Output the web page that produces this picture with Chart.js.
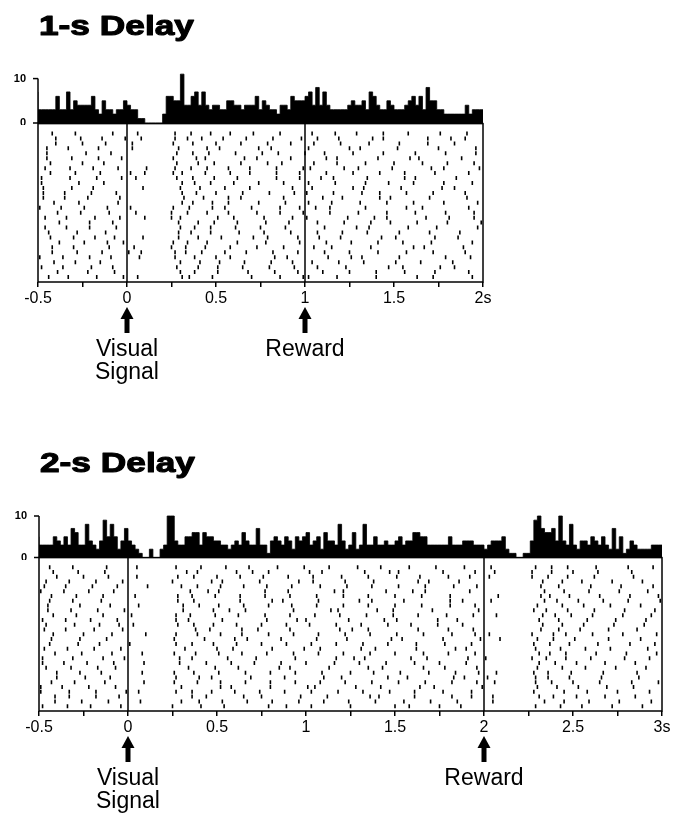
<!DOCTYPE html>
<html>
<head>
<meta charset="utf-8">
<script src="https://cdn.jsdelivr.net/npm/chart.js@4/dist/chart.umd.min.js"></script>
<style>
  body { margin: 0; background: #fff; }
  #wrap { position: relative; width: 678px; height: 818px; overflow: hidden; }
  canvas { position: absolute; left: 0; }
</style>
</head>
<body>
<div id="wrap">
  <canvas id="hist1" width="678" height="125" style="top:0px"></canvas>
  <canvas id="raster1" width="678" height="300" style="top:118px"></canvas>
  <canvas id="hist2" width="678" height="130" style="top:430px"></canvas>
  <canvas id="raster2" width="678" height="266" style="top:552px"></canvas>
</div>
<script>
// ---- data ----
const binWidth = 0.02;
const histTicks = [0, 10];

// 1-s delay
const range1 = [-0.5, 2];
const hist1 = [
  7, 3, 3, 3, 3, 3, 6, 3, 3, 7, 3, 5, 4, 4, 4, 4, 6, 3, 2, 5, 3, 3, 2, 3, 3,
  5, 4, 3, 3, 1, 1, 0, 0, 0, 0, 0, 2, 6, 6, 5, 5, 11, 4, 4, 6, 7, 4, 7, 4, 3,
  4, 4, 3, 3, 5, 5, 4, 4, 3, 4, 4, 4, 6, 3, 5, 4, 3, 3, 2, 4, 4, 3, 6, 5, 5,
  5, 6, 7, 4, 8, 4, 7, 4, 3, 3, 3, 3, 3, 4, 5, 4, 4, 5, 3, 7, 6, 4, 3, 3, 5,
  4, 3, 3, 3, 4, 5, 6, 4, 6, 3, 8, 5, 5, 3, 3, 2, 2, 2, 2, 2, 2, 4, 2, 3, 3
];
const trials1 = [
  [-0.42, -0.29, -0.08, 0.06, 0.27, 0.36, 0.47, 0.58, 0.71, 0.86, 1.04, 1.17, 1.29, 1.44, 1.58, 1.76, 1.91],
  [-0.40, -0.26, -0.14, -0.01, 0.08, 0.27, 0.34, 0.42, 0.54, 0.67, 0.82, 0.98, 1.07, 1.19, 1.38, 1.44, 1.69, 1.82, 1.90],
  [-0.40, -0.25, -0.12, 0.03, 0.26, 0.37, 0.50, 0.64, 0.79, 0.92, 1.05, 1.20, 1.36, 1.53, 1.69, 1.84],
  [-0.45, -0.33, -0.16, 0.03, 0.29, 0.45, 0.52, 0.74, 0.81, 1.02, 1.25, 1.31, 1.52, 1.75, 1.96],
  [-0.45, -0.23, -0.09, 0.28, 0.37, 0.46, 0.61, 0.76, 0.85, 1.00, 1.11, 1.27, 1.44, 1.62, 1.79, 1.96],
  [-0.45, -0.31, -0.16, -0.03, 0.26, 0.39, 0.44, 0.66, 0.73, 0.92, 1.12, 1.18, 1.41, 1.59, 1.64, 1.88],
  [-0.43, -0.25, -0.13, 0.28, 0.40, 0.49, 0.64, 0.79, 0.87, 1.05, 1.18, 1.34, 1.50, 1.66, 1.80, 1.95],
  [-0.46, -0.32, -0.19, -0.05, 0.11, 0.27, 0.36, 0.45, 0.57, 0.69, 0.84, 0.99, 1.03, 1.22, 1.30, 1.49, 1.71, 1.78, 1.98],
  [-0.43, -0.29, -0.15, 0.02, 0.10, 0.26, 0.31, 0.44, 0.58, 0.69, 0.84, 0.97, 1.12, 1.27, 1.42, 1.56, 1.73, 1.92],
  [-0.48, -0.32, -0.17, -0.03, 0.05, 0.28, 0.37, 0.49, 0.62, 0.84, 0.97, 1.09, 1.16, 1.35, 1.56, 1.62, 1.85],
  [-0.48, -0.27, -0.13, 0.31, 0.38, 0.47, 0.60, 0.74, 0.88, 1.02, 1.17, 1.34, 1.47, 1.61, 1.78, 1.94],
  [-0.47, -0.31, -0.19, 0.09, 0.30, 0.41, 0.55, 0.69, 0.93, 1.04, 1.27, 1.33, 1.54, 1.77, 1.84],
  [-0.47, -0.35, -0.20, -0.06, 0.31, 0.39, 0.50, 0.65, 0.80, 0.94, 1.01, 1.16, 1.32, 1.42, 1.57, 1.72, 1.90],
  [-0.47, -0.35, -0.22, -0.04, 0.32, 0.43, 0.57, 0.64, 0.88, 1.10, 1.21, 1.42, 1.48, 1.70, 1.91],
  [-0.41, -0.27, -0.05, 0.31, 0.37, 0.48, 0.57, 0.74, 0.89, 1.02, 1.15, 1.31, 1.46, 1.61, 1.78, 1.97],
  [-0.49, -0.37, -0.24, -0.11, 0.02, 0.26, 0.35, 0.48, 0.55, 0.70, 0.86, 0.97, 1.06, 1.14, 1.34, 1.57, 1.66, 1.92],
  [-0.39, -0.26, -0.10, 0.05, 0.25, 0.34, 0.45, 0.57, 0.73, 0.86, 0.99, 1.14, 1.30, 1.46, 1.62, 1.79, 1.95],
  [-0.46, -0.34, -0.18, -0.04, 0.10, 0.25, 0.30, 0.51, 0.60, 0.77, 0.93, 1.01, 1.24, 1.39, 1.46, 1.68, 1.81, 1.95],
  [-0.38, -0.21, -0.08, 0.29, 0.40, 0.49, 0.62, 0.78, 0.91, 1.07, 1.22, 1.37, 1.48, 1.63, 1.80, 1.99],
  [-0.46, -0.34, -0.21, -0.06, 0.30, 0.38, 0.47, 0.61, 0.75, 0.89, 1.11, 1.29, 1.36, 1.58, 1.74, 1.97],
  [-0.44, -0.28, -0.12, 0.29, 0.36, 0.47, 0.63, 0.77, 0.92, 1.07, 1.21, 1.35, 1.53, 1.70, 1.87],
  [-0.43, -0.30, -0.18, -0.07, 0.09, 0.29, 0.40, 0.53, 0.71, 0.79, 0.96, 1.08, 1.20, 1.43, 1.51, 1.73, 1.86],
  [-0.38, -0.24, -0.11, -0.02, 0.26, 0.34, 0.45, 0.62, 0.78, 0.97, 1.12, 1.26, 1.41, 1.55, 1.71, 1.94],
  [-0.42, -0.30, -0.10, 0.04, 0.25, 0.33, 0.44, 0.58, 0.73, 0.88, 1.05, 1.15, 1.37, 1.61, 1.67, 1.89],
  [-0.42, -0.28, -0.14, 0.01, 0.08, 0.27, 0.33, 0.42, 0.55, 0.67, 0.82, 0.96, 1.11, 1.25, 1.41, 1.57, 1.72, 1.90],
  [-0.49, -0.36, -0.21, -0.09, 0.07, 0.27, 0.38, 0.50, 0.58, 0.83, 0.90, 1.13, 1.26, 1.32, 1.53, 1.79, 1.93],
  [-0.41, -0.29, -0.15, 0.30, 0.41, 0.52, 0.66, 0.81, 0.93, 1.04, 1.19, 1.33, 1.51, 1.65, 1.83],
  [-0.48, -0.36, -0.20, -0.08, 0.28, 0.40, 0.51, 0.65, 0.80, 0.94, 1.07, 1.23, 1.47, 1.55, 1.76, 1.84],
  [-0.39, -0.22, -0.07, 0.30, 0.38, 0.51, 0.68, 0.83, 0.96, 1.10, 1.25, 1.40, 1.56, 1.73, 1.92],
  [-0.44, -0.33, -0.17, -0.02, 0.06, 0.31, 0.35, 0.48, 0.70, 0.86, 0.99, 1.02, 1.18, 1.40, 1.63, 1.72, 1.94]
];
const xTicks1 = [-0.5, -0.25, 0, 0.25, 0.5, 0.75, 1, 1.25, 1.5, 1.75, 2];
const xLabels1 = ['-0.5', '', '0', '', '0.5', '', '1', '', '1.5', '', '2s'];
const eventTimes1 = [0, 1];
const eventLabels1 = [['Visual', 'Signal'], ['Reward']];

// 2-s delay
const range2 = [-0.5, 3];
const hist2 = [
  5, 3, 3, 3, 3, 5, 4, 3, 5, 3, 7, 6, 3, 3, 8, 4, 3, 2, 4, 9, 5, 8, 5, 2, 4,
  7, 4, 3, 2, 1, 0, 0, 2, 0, 0, 2, 3, 10, 10, 4, 3, 3, 5, 5, 6, 6, 3, 6, 5, 5,
  4, 4, 3, 3, 2, 3, 4, 3, 6, 4, 3, 3, 7, 3, 3, 1, 4, 5, 4, 3, 5, 4, 2, 5, 4,
  5, 6, 3, 4, 5, 2, 6, 4, 4, 3, 8, 4, 2, 3, 6, 2, 3, 8, 3, 3, 5, 3, 3, 4, 3,
  3, 4, 5, 3, 4, 4, 6, 6, 5, 5, 3, 3, 3, 3, 3, 3, 5, 3, 3, 3, 4, 4, 4, 3, 3,
  3, 2, 3, 4, 4, 4, 5, 2, 1, 1, 0, 0, 1, 1, 4, 9, 10, 7, 6, 6, 7, 4, 10, 4, 3,
  8, 3, 2, 4, 4, 3, 5, 4, 3, 5, 3, 2, 7, 2, 5, 1, 2, 4, 3, 2, 2, 2, 2, 3, 3
];
const trials2 = [
  [-0.44, -0.31, -0.12, 0.05, 0.27, 0.41, 0.55, 0.68, 0.84, 0.99, 1.13, 1.29, 1.42, 1.58, 1.73, 1.89, 2.04, 2.29, 2.38, 2.47, 2.63, 2.81, 2.95],
  [-0.42, -0.28, -0.13, 0.33, 0.39, 0.61, 0.70, 0.79, 1.02, 1.09, 1.33, 1.47, 1.52, 1.77, 1.95, 2.06, 2.27, 2.38, 2.50, 2.64, 2.83],
  [-0.40, -0.25, -0.11, 0.05, 0.28, 0.37, 0.50, 0.63, 0.76, 0.90, 1.04, 1.20, 1.35, 1.51, 1.64, 1.80, 1.92, 2.03, 2.27, 2.36, 2.47, 2.62, 2.84],
  [-0.46, -0.33, -0.18, -0.03, 0.25, 0.47, 0.53, 0.74, 0.96, 1.04, 1.22, 1.38, 1.63, 1.69, 1.86, 2.33, 2.44, 2.55, 2.72, 2.89],
  [-0.47, -0.35, -0.20, -0.06, 0.11, 0.30, 0.39, 0.52, 0.65, 0.78, 0.92, 1.08, 1.23, 1.37, 1.52, 1.67, 1.83, 1.96, 2.32, 2.42, 2.60, 2.77, 2.95],
  [-0.49, -0.36, -0.22, -0.08, 0.35, 0.45, 0.51, 0.77, 0.90, 1.16, 1.21, 1.45, 1.60, 1.67, 1.92, 2.34, 2.45, 2.59, 2.76, 2.92],
  [-0.43, -0.29, -0.14, 0.04, 0.28, 0.36, 0.49, 0.63, 0.77, 0.91, 1.06, 1.21, 1.35, 1.50, 1.65, 1.81, 2.08, 2.32, 2.37, 2.48, 2.65, 2.82, 2.98],
  [-0.44, -0.31, -0.15, 0.28, 0.37, 0.63, 0.81, 0.87, 1.07, 1.30, 1.37, 1.55, 1.81, 1.88, 2.04, 2.34, 2.41, 2.53, 2.67, 2.81, 2.99],
  [-0.45, -0.27, -0.10, 0.06, 0.31, 0.40, 0.51, 0.65, 0.79, 0.92, 1.06, 1.21, 1.35, 1.50, 1.65, 1.81, 1.95, 2.30, 2.44, 2.56, 2.71, 2.88],
  [-0.45, -0.32, -0.17, -0.02, 0.31, 0.48, 0.57, 0.66, 0.93, 1.14, 1.18, 1.40, 1.49, 1.71, 1.97, 2.28, 2.35, 2.47, 2.62, 2.79, 2.96],
  [-0.42, -0.29, -0.14, 0.02, 0.27, 0.35, 0.49, 0.62, 0.77, 0.91, 1.05, 1.19, 1.34, 1.49, 1.63, 1.79, 1.94, 2.07, 2.33, 2.40, 2.49, 2.61, 2.78, 2.94],
  [-0.48, -0.35, -0.21, -0.06, 0.27, 0.34, 0.53, 0.78, 0.95, 1.00, 1.24, 1.44, 1.51, 1.74, 1.85, 2.31, 2.42, 2.58, 2.74, 2.91],
  [-0.46, -0.30, -0.16, -0.05, 0.03, 0.28, 0.37, 0.48, 0.61, 0.75, 0.89, 1.02, 1.17, 1.31, 1.46, 1.59, 1.74, 1.88, 2.33, 2.44, 2.56, 2.73, 2.90],
  [-0.47, -0.35, -0.19, -0.03, 0.38, 0.46, 0.64, 0.73, 0.91, 1.19, 1.26, 1.35, 1.63, 1.80, 1.94, 2.32, 2.42, 2.54, 2.70, 2.86],
  [-0.42, -0.25, -0.09, 0.10, 0.27, 0.39, 0.52, 0.64, 0.79, 0.93, 1.07, 1.22, 1.36, 1.51, 1.66, 1.82, 1.95, 2.03, 2.27, 2.39, 2.46, 2.61, 2.78, 2.97],
  [-0.43, -0.27, -0.12, 0.26, 0.43, 0.60, 0.67, 0.86, 1.06, 1.23, 1.48, 1.54, 1.77, 1.98, 2.09, 2.30, 2.39, 2.51, 2.70, 2.88],
  [-0.44, -0.28, -0.16, 0.01, 0.27, 0.36, 0.48, 0.61, 0.75, 0.89, 1.03, 1.17, 1.32, 1.46, 1.62, 1.78, 1.93, 2.28, 2.37, 2.48, 2.64, 2.82, 2.96],
  [-0.47, -0.34, -0.19, -0.04, 0.32, 0.50, 0.59, 0.81, 0.99, 1.08, 1.31, 1.39, 1.62, 1.84, 1.90, 2.29, 2.43, 2.57, 2.71, 2.92],
  [-0.41, -0.26, -0.09, 0.08, 0.26, 0.38, 0.51, 0.64, 0.78, 0.93, 1.07, 1.21, 1.36, 1.50, 1.66, 1.80, 1.95, 2.31, 2.37, 2.46, 2.63, 2.80, 2.97],
  [-0.48, -0.31, -0.14, -0.02, 0.29, 0.36, 0.56, 0.72, 0.94, 1.17, 1.27, 1.33, 1.59, 1.68, 1.91, 2.01, 2.27, 2.35, 2.46, 2.60, 2.79, 2.93],
  [-0.48, -0.36, -0.23, -0.08, 0.09, 0.29, 0.44, 0.58, 0.71, 0.86, 1.00, 1.16, 1.30, 1.45, 1.61, 1.75, 1.90, 2.31, 2.40, 2.52, 2.68, 2.85],
  [-0.46, -0.32, -0.17, -0.07, 0.34, 0.49, 0.62, 0.85, 0.91, 1.13, 1.35, 1.43, 1.66, 1.78, 1.96, 2.30, 2.44, 2.57, 2.74, 2.91],
  [-0.40, -0.27, -0.15, 0.08, 0.26, 0.37, 0.51, 0.66, 0.80, 0.94, 1.09, 1.25, 1.38, 1.53, 1.69, 1.84, 1.97, 2.07, 2.28, 2.36, 2.49, 2.67, 2.86],
  [-0.40, -0.24, -0.10, 0.27, 0.40, 0.47, 0.69, 0.88, 1.10, 1.20, 1.46, 1.57, 1.83, 1.89, 2.02, 2.29, 2.36, 2.48, 2.66, 2.87],
  [-0.43, -0.30, -0.13, 0.09, 0.26, 0.39, 0.52, 0.66, 0.80, 0.94, 1.08, 1.22, 1.37, 1.52, 1.67, 1.82, 1.96, 2.06, 2.29, 2.38, 2.50, 2.65, 2.83, 2.98],
  [-0.49, -0.37, -0.22, -0.07, 0.30, 0.52, 0.58, 0.80, 1.01, 1.05, 1.28, 1.42, 1.64, 1.72, 1.99, 2.30, 2.41, 2.53, 2.69, 2.84],
  [-0.49, -0.33, -0.18, -0.01, 0.06, 0.27, 0.36, 0.47, 0.60, 0.74, 0.88, 1.03, 1.18, 1.32, 1.47, 1.61, 1.77, 1.93, 2.28, 2.45, 2.58, 2.75, 2.93],
  [-0.41, -0.33, -0.18, -0.05, 0.36, 0.44, 0.65, 0.75, 0.97, 1.12, 1.36, 1.41, 1.61, 1.82, 1.93, 2.05, 2.31, 2.39, 2.52, 2.68, 2.85],
  [-0.41, -0.26, -0.11, 0.07, 0.30, 0.40, 0.53, 0.67, 0.81, 0.96, 1.10, 1.24, 1.39, 1.55, 1.70, 1.85, 2.05, 2.34, 2.45, 2.59, 2.76, 2.94],
  [-0.48, -0.34, -0.21, -0.04, 0.25, 0.41, 0.54, 0.79, 0.89, 1.03, 1.25, 1.50, 1.58, 1.75, 1.87, 2.29, 2.43, 2.55, 2.72, 2.89]
];
const xTicks2 = [-0.5, -0.25, 0, 0.25, 0.5, 0.75, 1, 1.25, 1.5, 1.75, 2, 2.25, 2.5, 2.75, 3];
const xLabels2 = ['-0.5', '', '0', '', '0.5', '', '1', '', '1.5', '', '2', '', '2.5', '', '3s'];
const eventTimes2 = [0, 2];
const eventLabels2 = [['Visual', 'Signal'], ['Reward']];

// ---- drawing ----
Chart.defaults.font.family = "'Liberation Sans', Arial, sans-serif";
Chart.defaults.color = '#000';
Chart.defaults.animation = false;

// title + short y axis (0..10) on histogram
const histDecor = {
    id: 'histDecor',
    afterDraw(chart, args, opts) {
        const ctx = chart.ctx;
        const y = chart.scales.y;
        const left = chart.chartArea.left;
        ctx.save();
        ctx.strokeStyle = '#000';
        ctx.fillStyle = '#000';
        ctx.lineWidth = 1.5;
        ctx.beginPath();
        ctx.moveTo(left, y.getPixelForValue(0));
        ctx.lineTo(left, y.getPixelForValue(10));
        ctx.stroke();
        ctx.font = "bold 11px 'Liberation Sans', Arial, sans-serif";
        ctx.textAlign = 'right';
        ctx.textBaseline = 'middle';
        histTicks.forEach(v => {
            const py = y.getPixelForValue(v);
            ctx.beginPath();
            ctx.moveTo(left - 5, py);
            ctx.lineTo(left, py);
            ctx.stroke();
            ctx.fillText(String(v), left - 12, py);
        });
        // panel title
        ctx.textAlign = 'left';
        ctx.textBaseline = 'alphabetic';
        ctx.font = "bold 28px 'Liberation Sans', Arial, sans-serif";
        ctx.translate(left + 1, opts.baseline);
        ctx.scale(1.26, 1);
        ctx.lineWidth = 1.1;
        ctx.lineJoin = 'round';
        ctx.fillText(opts.text, 0, 0);
        ctx.strokeText(opts.text, 0, 0);
        ctx.restore();
    }
};

// frame, event lines, arrows and event labels on raster
const rasterDecor = {
    id: 'rasterDecor',
    afterDraw(chart, args, opts) {
        const ctx = chart.ctx;
        const a = chart.chartArea;
        const x = chart.scales.x;
        ctx.save();
        ctx.strokeStyle = '#000';
        ctx.lineWidth = 1.5;
        ctx.strokeRect(a.left, a.top, a.right - a.left, a.bottom - a.top);
        ctx.fillStyle = '#000';
        ctx.font = "23px 'Liberation Sans', Arial, sans-serif";
        ctx.textAlign = 'center';
        opts.times.forEach((t, i) => {
            const px = x.getPixelForValue(t);
            ctx.beginPath();
            ctx.moveTo(px, a.top);
            ctx.lineTo(px, a.bottom);
            ctx.stroke();
            const top = a.bottom + 25;
            ctx.beginPath();
            ctx.moveTo(px, top);
            ctx.lineTo(px + 6.5, top + 12);
            ctx.lineTo(px - 6.5, top + 12);
            ctx.closePath();
            ctx.fill();
            ctx.fillRect(px - 2.5, top + 11, 5, 15);
            opts.labels[i].forEach((line, j) => {
                ctx.fillText(line, px, a.bottom + 74 + j * 23);
            });
        });
        ctx.restore();
    }
};

function makeHist(id, counts, range, yMax, pad, title) {
    const pts = counts.map((c, i) => ({ x: range[0] + i * binWidth, y: c }));
    pts.push({ x: range[1], y: counts[counts.length - 1] });
    new Chart(document.getElementById(id), {
        type: 'line',
        data: {
            datasets: [{
                data: pts,
                stepped: 'after',
                fill: 'origin',
                backgroundColor: '#000',
                borderColor: '#000',
                borderWidth: 0.8,
                pointRadius: 0
            }]
        },
        options: {
            responsive: false,
            events: [],
            layout: { padding: pad },
            plugins: {
                legend: { display: false },
                tooltip: { enabled: false },
                histDecor: title
            },
            scales: {
                x: { type: 'linear', min: range[0], max: range[1], display: false },
                y: { min: 0, max: yMax, display: false }
            }
        },
        plugins: [histDecor]
    });
}

function makeRaster(id, trials, range, ticks, labels, pad, events) {
    const pts = [];
    trials.forEach((row, k) => row.forEach(t => pts.push({ x: t, y: k + 1 })));
    new Chart(document.getElementById(id), {
        type: 'scatter',
        data: {
            datasets: [{
                data: pts,
                pointStyle: 'line',
                pointRotation: 90,
                pointRadius: 2,
                pointBorderWidth: 1.6,
                borderColor: '#000',
                backgroundColor: '#000'
            }]
        },
        options: {
            responsive: false,
            events: [],
            layout: { padding: pad },
            plugins: {
                legend: { display: false },
                tooltip: { enabled: false },
                rasterDecor: events
            },
            scales: {
                x: {
                    type: 'linear',
                    min: range[0],
                    max: range[1],
                    afterBuildTicks: s => { s.ticks = ticks.map(v => ({ value: v })); },
                    afterFit: s => { s.height = 26; },
                    grid: { drawOnChartArea: false, tickLength: 5, color: '#000', lineWidth: 1.5 },
                    border: { display: false },
                    ticks: {
                        autoSkip: false,
                        maxRotation: 0,
                        padding: 2,
                        font: { size: 16 },
                        callback: (v, i) => labels[i]
                    }
                },
                y: { display: false, min: -1, max: 31, reverse: true }
            }
        },
        plugins: [rasterDecor]
    });
}

// 1-s Delay
makeHist('hist1', hist1, range1, 12,
    { top: 69.7, bottom: 2, left: 38, right: 195 },
    { text: '1-s Delay', baseline: 35 });
makeRaster('raster1', trials1, range1, xTicks1, xLabels1,
    { top: 5, bottom: 110, left: 38, right: 195 },
    { times: eventTimes1, labels: eventLabels1 });

// 2-s Delay
makeHist('hist2', hist2, range2, 11,
    { top: 81.85, bottom: 2.5, left: 39, right: 16 },
    { text: '2-s Delay', baseline: 42 });
makeRaster('raster2', trials2, range2, xTicks2, xLabels2,
    { top: 5.5, bottom: 81, left: 39, right: 16 },
    { times: eventTimes2, labels: eventLabels2 });
</script>
</body>
</html>
